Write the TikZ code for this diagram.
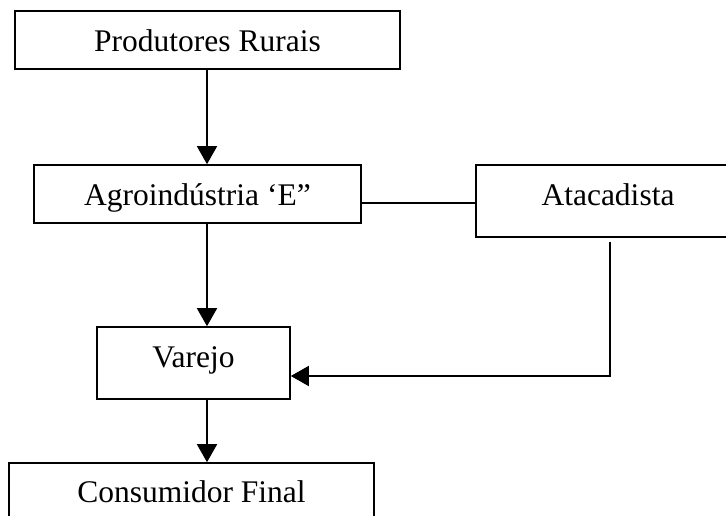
\documentclass[tikz,border=0pt]{standalone}
\usepackage{fontspec}
\setmainfont{Liberation Serif}
\usetikzlibrary{arrows.meta}
\begin{document}
\begin{tikzpicture}[x=1pt,y=-1pt,
  box/.style={draw, line width=1.6pt, inner sep=0pt, text depth=0pt,
    font=\fontsize{31.5}{36}\selectfont},
  conn/.style={line width=1.6pt},
  arr/.style={conn, -{Triangle[length=18pt,width=20pt]}}]
\useasboundingbox (0,0) rectangle (726,516);
\node[box, minimum width=385pt, minimum height=58pt, text height=24pt] (prod) at (207.5,40) {Produtores Rurais};
\node[box, minimum width=327pt, minimum height=58pt, text height=22pt] (agro) at (197.5,194) {Agroindústria ‘E”};
\node[box, minimum width=264pt, minimum height=72pt, text height=8pt] (ata) at (608,201) {Atacadista};
\node[box, minimum width=193pt, minimum height=72pt, text height=8pt] (var) at (193.5,363) {Varejo};
\node[box, minimum width=365pt, minimum height=60pt, text height=18pt] (cons) at (191.5,493) {Consumidor Final};
\coordinate (ax) at (207,0);
\coordinate (ly) at (0,203);
\coordinate (c1) at (610,242);
\coordinate (c2) at (610,376);
\draw[arr] (prod.south -| ax) -- (agro.north -| ax);
\draw[arr] (agro.south -| ax) -- (var.north -| ax);
\draw[arr] (var.south -| ax) -- (cons.north -| ax);
\draw[conn] (agro.east |- ly) -- (ata.west |- ly);
\draw[arr] (c1) -- (c2) -- (var.east |- c2);
\end{tikzpicture}
\end{document}
